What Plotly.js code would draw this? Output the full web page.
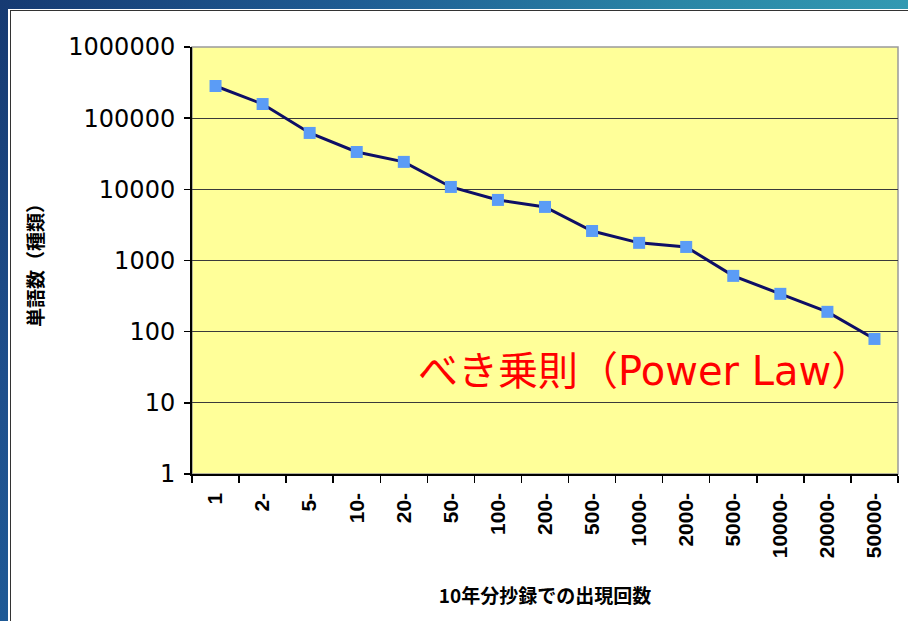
<!DOCTYPE html>
<html>
<head>
<meta charset="utf-8">
<script src="https://cdn.plot.ly/plotly-3.0.1.min.js"></script>
<style>
  html, body { margin:0; padding:0; background:#ffffff; }
  #wrap { position:relative; width:908px; height:621px; overflow:hidden; background:#fff; }
  #frameLeft { position:absolute; left:0; top:0; width:8px; height:621px;
    background:linear-gradient(180deg,#163a72 0%,#1e4f8c 60%,#1f5a96 100%); }
  #frameTop { position:absolute; left:0; top:0; width:908px; height:9px;
    background:linear-gradient(90deg,#163a72 0%,#1f5d94 40%,#2a86a6 75%,#3299b2 100%); }
  #innerLine { position:absolute; left:10px; top:10px; width:900px; height:620px;
    border-left:1px solid #333; border-top:1px solid #333; box-sizing:border-box; }
  #chart { position:absolute; left:0; top:0; width:908px; height:621px; }
</style>
</head>
<body>
<div id="wrap">
  <div id="chart"></div>
  <div id="frameLeft"></div>
  <div id="frameTop"></div>
  <div id="innerLine"></div>
</div>
<script>
// Category labels (occurrence counts in 10 years of abstracts)
const categories = ["1","2-","5-","10-","20-","50-","100-","200-","500-","1000-","2000-","5000-","10000-","20000-","50000-"];
// Number of word types per category
const wordCounts = [283000,158000,62000,33500,24300,10800,7100,5660,2600,1770,1550,608,340,190,79];
// Y tick values and labels
const yTickVals = [1,10,100,1000,10000,100000,1000000];
const yTickText = ["1","10","100","1000","10000","100000","1000000"];

const trace = {
  x: categories,
  y: wordCounts,
  type: "scatter",
  mode: "lines+markers",
  line: { color: "#0e0f66", width: 3 },
  marker: { symbol: "square", size: 12, color: "#5b9cf6", line: { width: 0 } },
  hoverinfo: "x+y",
  cliponaxis: false
};

const layout = {
  width: 908,
  height: 621,
  paper_bgcolor: "rgba(0,0,0,0)",
  plot_bgcolor: "#ffff99",
  margin: { l: 192, r: 10, t: 47, b: 147 },
  showlegend: false,
  xaxis: {
    type: "category",
    range: [-0.5, 14.5],
    tickson: "boundaries",
    ticks: "outside",
    ticklen: 7,
    tickwidth: 1.5,
    tickcolor: "#000",
    tickangle: -90,
    showline: true,
    linecolor: "#000",
    linewidth: 1.5,
    showgrid: false,
    zeroline: false,
    ticklabelstandoff: 9,
    tickfont: { family: "Liberation Sans", size: 21, color: "#000", weight: "bold" },
    title: {
      text: "10年分抄録での出現回数",
      font: { family: "Noto Sans CJK JP", size: 19, color: "#000", weight: "bold" },
      standoff: 32
    },
    automargin: false
  },
  yaxis: {
    type: "log",
    range: [0, 6],
    tickvals: yTickVals,
    ticktext: yTickText,
    ticks: "outside",
    ticklen: 6,
    tickwidth: 1.5,
    tickcolor: "#000",
    showline: true,
    linecolor: "#000",
    linewidth: 2,
    showgrid: true,
    gridcolor: "#3a3a3a",
    gridwidth: 1,
    zeroline: false,
    ticklabelstandoff: 4,
    tickfont: { family: "DejaVu Sans", size: 24, color: "#000" },
    title: {
      text: "単語数（種類）",
      font: { family: "Noto Sans CJK JP", size: 19, color: "#000", weight: "bold" },
      standoff: 20
    },
    automargin: false
  },
  shapes: [
    { type: "rect", xref: "paper", yref: "paper", x0: 0, x1: 1, y0: 0, y1: 1,
      line: { color: "#9a9a9a", width: 1.5 }, layer: "below" }
  ],
  annotations: [
    { text: "べき乗則（Power Law）", xref: "paper", yref: "paper",
      x: 0.641, y: 0.241, xanchor: "center", yanchor: "middle", showarrow: false,
      font: { family: "DejaVu Sans, Noto Sans CJK JP", size: 40, color: "#ff0000" } }
  ]
};

Plotly.newPlot("chart", [trace], layout, { displayModeBar: false, staticPlot: true });
</script>
</body>
</html>
